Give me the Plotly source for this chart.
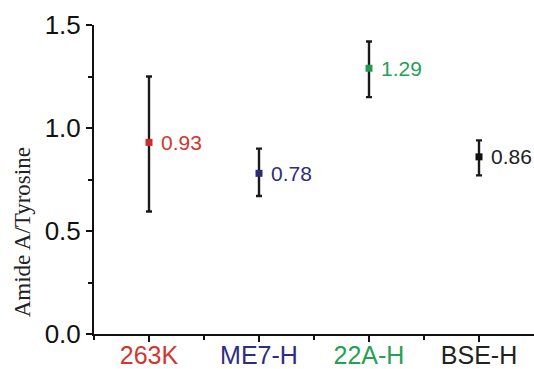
import plotly.graph_objects as go

# Amide A / Tyrosine band ratio per sample, with error bars
samples = ["263K", "ME7-H", "22A-H", "BSE-H"]
ratios = [0.93, 0.78, 1.29, 0.86]
err_plus = [0.32, 0.12, 0.13, 0.08]
err_minus = [0.335, 0.11, 0.14, 0.09]
marker_colors = ["#d22a2a", "#2a2a78", "#1f9a4e", "#111111"]
text_colors = ["#d3352f", "#2e2d80", "#26a055", "#222222"]
positions = [1, 2, 3, 4]

fig = go.Figure()

for x, y, ep, em, mc in zip(positions, ratios, err_plus, err_minus, marker_colors):
    fig.add_trace(go.Scatter(
        x=[x], y=[y], mode="markers",
        marker=dict(symbol="square", size=7, color=mc, line=dict(width=0)),
        error_y=dict(type="data", symmetric=False, array=[ep], arrayminus=[em],
                     color="#1a1a1a", thickness=2.4, width=3),
        showlegend=False, hoverinfo="skip",
    ))

for x, y, tc in zip(positions, ratios, text_colors):
    fig.add_annotation(
        x=x, y=y, text=f"{y:.2f}", showarrow=False,
        xanchor="left", yanchor="middle", xshift=10,
        font=dict(family="Liberation Sans, Arial, sans-serif", size=21, color=tc),
    )

ticktext = [f'<span style="color:{c}">{s}</span>' for s, c in zip(samples, text_colors)]

fig.update_xaxes(
    range=[0.5, 4.5], tickmode="array", tickvals=positions, ticktext=ticktext,
    showline=True, linecolor="#111111", linewidth=2, automargin=False,
    ticks="outside", ticklen=6, tickwidth=1.5, tickcolor="#111111",
    ticklabelstandoff=-8,
    minor=dict(tickmode="array", tickvals=[0.5, 1.5, 2.5, 3.5], ticks="outside",
               ticklen=4, tickwidth=1.5, tickcolor="#111111"),
    showgrid=False, zeroline=False,
    tickfont=dict(family="Liberation Sans, Arial, sans-serif", size=25),
)

fig.update_yaxes(
    range=[0, 1.5], tickmode="array", tickvals=[0, 0.5, 1.0, 1.5],
    ticktext=["0.0", "0.5", "1.0", "1.5"],
    showline=True, linecolor="#111111", linewidth=2, automargin=False,
    ticks="outside", ticklen=6, tickwidth=1.5, tickcolor="#111111",
    minor=dict(tickmode="array", tickvals=[0.25, 0.75, 1.25], ticks="outside",
               ticklen=4, tickwidth=1.5, tickcolor="#111111"),
    showgrid=False, zeroline=False,
    tickfont=dict(family="Liberation Sans, Arial, sans-serif", size=26, color="#111111"),
)

fig.add_annotation(
    xref="paper", yref="paper", x=-0.163, y=0.33,
    text="Amide A/Tyrosine", showarrow=False, textangle=-90,
    xanchor="center", yanchor="middle",
    font=dict(family="Liberation Serif, Times New Roman, serif", size=23, color="#222222"),
)

fig.update_layout(
    width=534, height=369,
    margin=dict(l=94, r=0, t=25, b=35, autoexpand=False),
    paper_bgcolor="white", plot_bgcolor="white",
)

fig.write_html("out.html")
